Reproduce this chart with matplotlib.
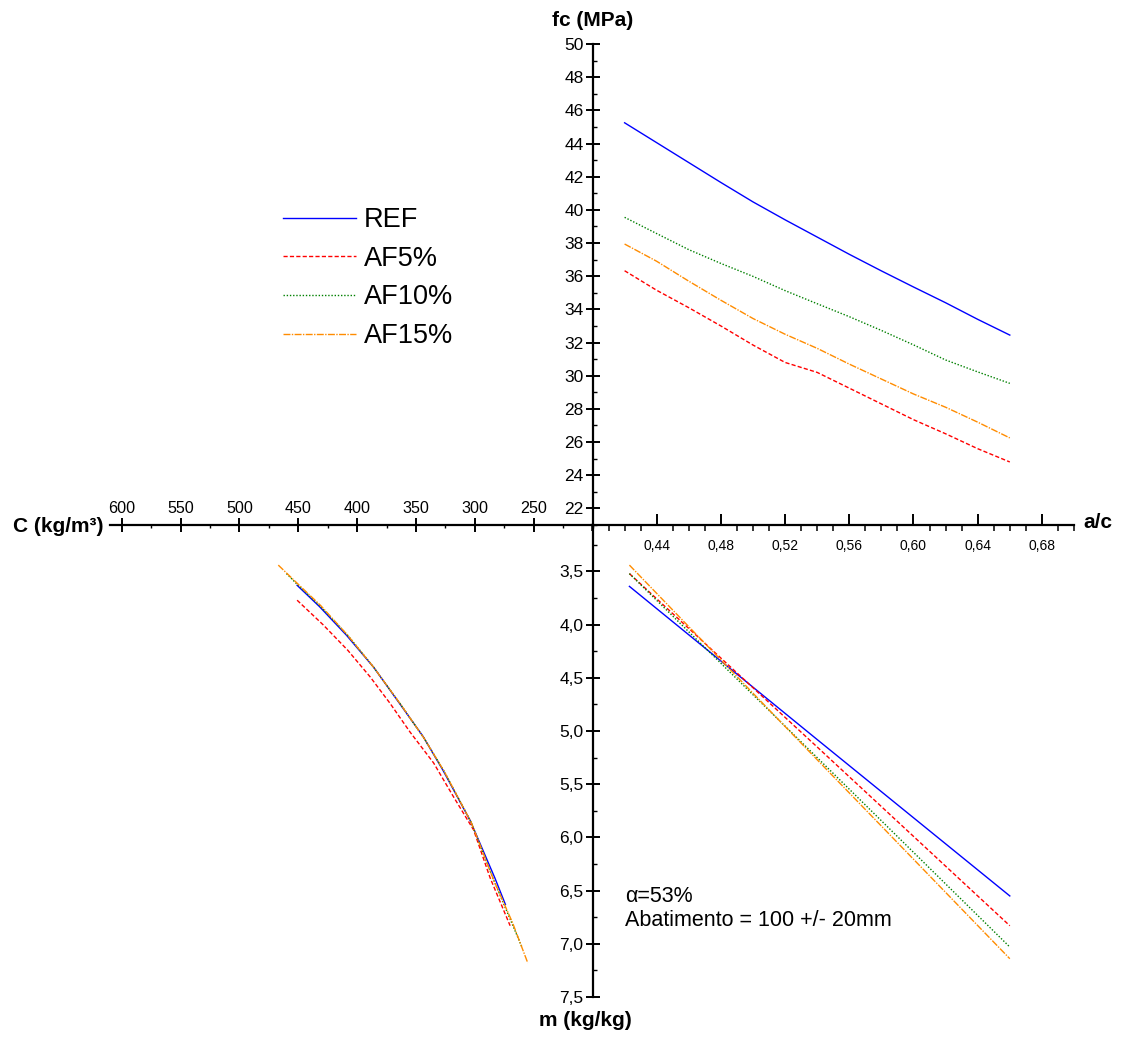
import matplotlib
matplotlib.use('Agg')
import matplotlib.pyplot as plt
from matplotlib.ticker import FixedLocator, MultipleLocator, FuncFormatter

plt.rcParams['font.family'] = ['Liberation Sans', 'DejaVu Sans']

W, H = 1128, 1046

SERIES = ['REF', 'AF5%', 'AF10%', 'AF15%']

# upper right quadrant: fc (MPa) against a/c
AC = [0.42, 0.44, 0.46, 0.48, 0.50, 0.52, 0.54, 0.56, 0.58, 0.60, 0.62, 0.64, 0.66]
FC_REF = [45.25, 44.05, 42.85, 41.65, 40.48, 39.40, 38.36, 37.32, 36.32, 35.35, 34.40, 33.40, 32.45]
FC_AF5 = [36.33, 35.15, 34.10, 33.00, 31.85, 30.80, 30.20, 29.25, 28.30, 27.35, 26.50, 25.60, 24.80]
FC_AF10 = [39.55, 38.57, 37.60, 36.77, 35.99, 35.13, 34.34, 33.56, 32.73, 31.86, 30.95, 30.23, 29.54]
FC_AF15 = [37.94, 36.90, 35.70, 34.55, 33.45, 32.50, 31.65, 30.70, 29.80, 28.90, 28.10, 27.20, 26.25]

# lower right quadrant: m (kg/kg) against a/c
AC_M = [0.423, 0.54, 0.66]
MR_REF = [3.64, 5.08, 6.55]
MR_AF5 = [3.52, 5.15, 6.83]
MR_AF10 = [3.52, 5.25, 7.03]
MR_AF15 = [3.44, 5.27, 7.14]

# lower left quadrant: m (kg/kg) against C (kg/m3)
CL_REF = [451, 432, 409, 386, 364, 344, 327, 304, 283, 274]
ML_REF = [3.63, 3.83, 4.10, 4.40, 4.74, 5.05, 5.37, 5.84, 6.38, 6.63]
CL_AF5 = [451, 429, 408, 389, 372, 355, 335, 318, 301, 287, 270]
ML_AF5 = [3.77, 4.00, 4.24, 4.49, 4.74, 5.01, 5.30, 5.62, 5.93, 6.38, 6.83]
CL_AF10 = [460, 451, 431, 408, 386, 363, 343, 326, 303, 284, 260]
ML_AF10 = [3.52, 3.62, 3.83, 4.10, 4.40, 4.75, 5.07, 5.38, 5.86, 6.40, 7.03]
CL_AF15 = [467, 451, 431, 408, 386, 363, 343, 326, 303, 284, 268, 255]
ML_AF15 = [3.44, 3.61, 3.82, 4.10, 4.40, 4.75, 5.07, 5.38, 5.86, 6.40, 6.80, 7.18]

FC_TICKS = list(range(22, 51, 2))
AC_TICKS = [0.44, 0.48, 0.52, 0.56, 0.60, 0.64, 0.68]
M_TICKS = [3.5, 4.0, 4.5, 5.0, 5.5, 6.0, 6.5, 7.0, 7.5]
C_TICKS = [250, 300, 350, 400, 450, 500, 550, 600]

STYLES = {
    'REF': dict(color='#0000ff', ls='-'),
    'AF5%': dict(color='#ff0000', ls=(0, (3, 1.6))),
    'AF10%': dict(color='#008000', ls=(0, (1, 1.3))),
    'AF15%': dict(color='#ff8c00', ls=(0, (5, 1, 1, 1))),
}
LW = 1.0

# pixel layout of the cross of axes
X0, Y0 = 592.5, 525.0      # origin
XR = 1074.0                # a/c = 0.70
XL = 110.0                 # C = 610
YT = 44.0                  # fc = 50
YB = 997.0                 # m = 7.5


def frac(x0, y0, x1, y1):
    return [x0 / W, 1 - y1 / H, (x1 - x0) / W, (y1 - y0) / H]


def comma(fmt):
    return FuncFormatter(lambda v, p: fmt.format(v).replace('.', ','))


def clean(ax, keep):
    for name, sp in ax.spines.items():
        sp.set_visible(name in keep)
        sp.set_linewidth(1.6)
        sp.set_color('black')
    ax.patch.set_alpha(0)


fig = plt.figure(figsize=(W / 100, H / 100), dpi=100)

ax_ur = fig.add_axes(frac(X0, YT, XR, Y0))
ax_lr = fig.add_axes(frac(X0, Y0, XR, YB))
ax_ll = fig.add_axes(frac(XL, Y0, X0, YB))

# --- upper right ---
for name, fc in zip(SERIES, [FC_REF, FC_AF5, FC_AF10, FC_AF15]):
    ax_ur.plot(AC, fc, lw=LW, label=name, **STYLES[name])
ax_ur.set_xlim(0.40, 0.70)
ax_ur.set_ylim(21.0, 50.0)
clean(ax_ur, ['left', 'bottom'])
ax_ur.xaxis.set_major_locator(FixedLocator(AC_TICKS))
ax_ur.xaxis.set_minor_locator(MultipleLocator(0.01))
ax_ur.xaxis.set_major_formatter(comma('{:.2f}'))
ax_ur.yaxis.set_major_locator(FixedLocator(FC_TICKS))
ax_ur.yaxis.set_minor_locator(MultipleLocator(1))
ax_ur.tick_params(axis='x', which='major', direction='in', length=8, width=1.4,
                  labelsize=10, pad=10)
ax_ur.tick_params(axis='x', which='minor', direction='out', length=4.5, width=1.1)
ax_ur.tick_params(axis='y', which='major', direction='inout', length=10, width=1.4,
                  labelsize=12.5, pad=1.5)
ax_ur.tick_params(axis='y', which='minor', direction='in', length=3, width=1.0)

# --- lower right ---
for name, m in zip(SERIES, [MR_REF, MR_AF5, MR_AF10, MR_AF15]):
    ax_lr.plot(AC_M, m, lw=LW, **STYLES[name])
ax_lr.set_xlim(0.40, 0.70)
ax_lr.set_ylim(7.5, 3.063)
clean(ax_lr, ['left'])
ax_lr.xaxis.set_major_locator(FixedLocator([]))
ax_lr.xaxis.set_minor_locator(FixedLocator([]))
ax_lr.yaxis.set_major_locator(FixedLocator(M_TICKS))
ax_lr.yaxis.set_minor_locator(MultipleLocator(0.25))
ax_lr.yaxis.set_major_formatter(comma('{:.1f}'))
ax_lr.tick_params(axis='y', which='major', direction='inout', length=10, width=1.4,
                  labelsize=12.5, pad=1.5)
ax_lr.tick_params(axis='y', which='minor', direction='in', length=3, width=1.0)

# --- lower left ---
for name, c, m in zip(SERIES, [CL_REF, CL_AF5, CL_AF10, CL_AF15],
                      [ML_REF, ML_AF5, ML_AF10, ML_AF15]):
    ax_ll.plot(c, m, lw=LW, **STYLES[name])
ax_ll.set_xlim(610, 200)
ax_ll.set_ylim(7.5, 3.063)
clean(ax_ll, ['top'])
ax_ll.yaxis.set_major_locator(FixedLocator([]))
ax_ll.yaxis.set_minor_locator(FixedLocator([]))
ax_ll.xaxis.tick_top()
ax_ll.xaxis.set_major_locator(FixedLocator(C_TICKS))
ax_ll.xaxis.set_minor_locator(MultipleLocator(25))
ax_ll.tick_params(axis='x', which='major', direction='inout', length=10, width=1.4,
                  labelsize=11.6, pad=1.5, top=True, bottom=False)
ax_ll.tick_params(axis='x', which='minor', direction='in', length=2.5, width=1.0,
                  top=True, bottom=False)


# axis titles and notes
def ftext(x, y, s, **kw):
    fig.text(x / W, 1 - y / H, s, **kw)


ftext(592.5, 20, 'fc (MPa)', ha='center', va='center', fontsize=15, fontweight='bold')
ftext(103, 527, 'C (kg/m\u00b3)', ha='right', va='center', fontsize=15,
      fontweight='bold')
ftext(1083, 523, 'a/c', ha='left', va='center', fontsize=15, fontweight='bold')
ftext(585, 1021, 'm (kg/kg)', ha='center', va='center', fontsize=15, fontweight='bold')

ftext(625, 897, '\u03b1=53%', ha='left', va='center', fontsize=15.5)
ftext(625, 921, 'Abatimento = 100 +/- 20mm', ha='left', va='center', fontsize=15.5)

handles, labels = ax_ur.get_legend_handles_labels()
fig.legend(handles, labels, loc='upper left', bbox_to_anchor=(283 / W, 1 - 207 / H),
           frameon=False, fontsize=19.5, handlelength=2.7, handletextpad=0.3,
           labelspacing=0.47, borderpad=0, borderaxespad=0)

fig.savefig('out.png', dpi=100)
